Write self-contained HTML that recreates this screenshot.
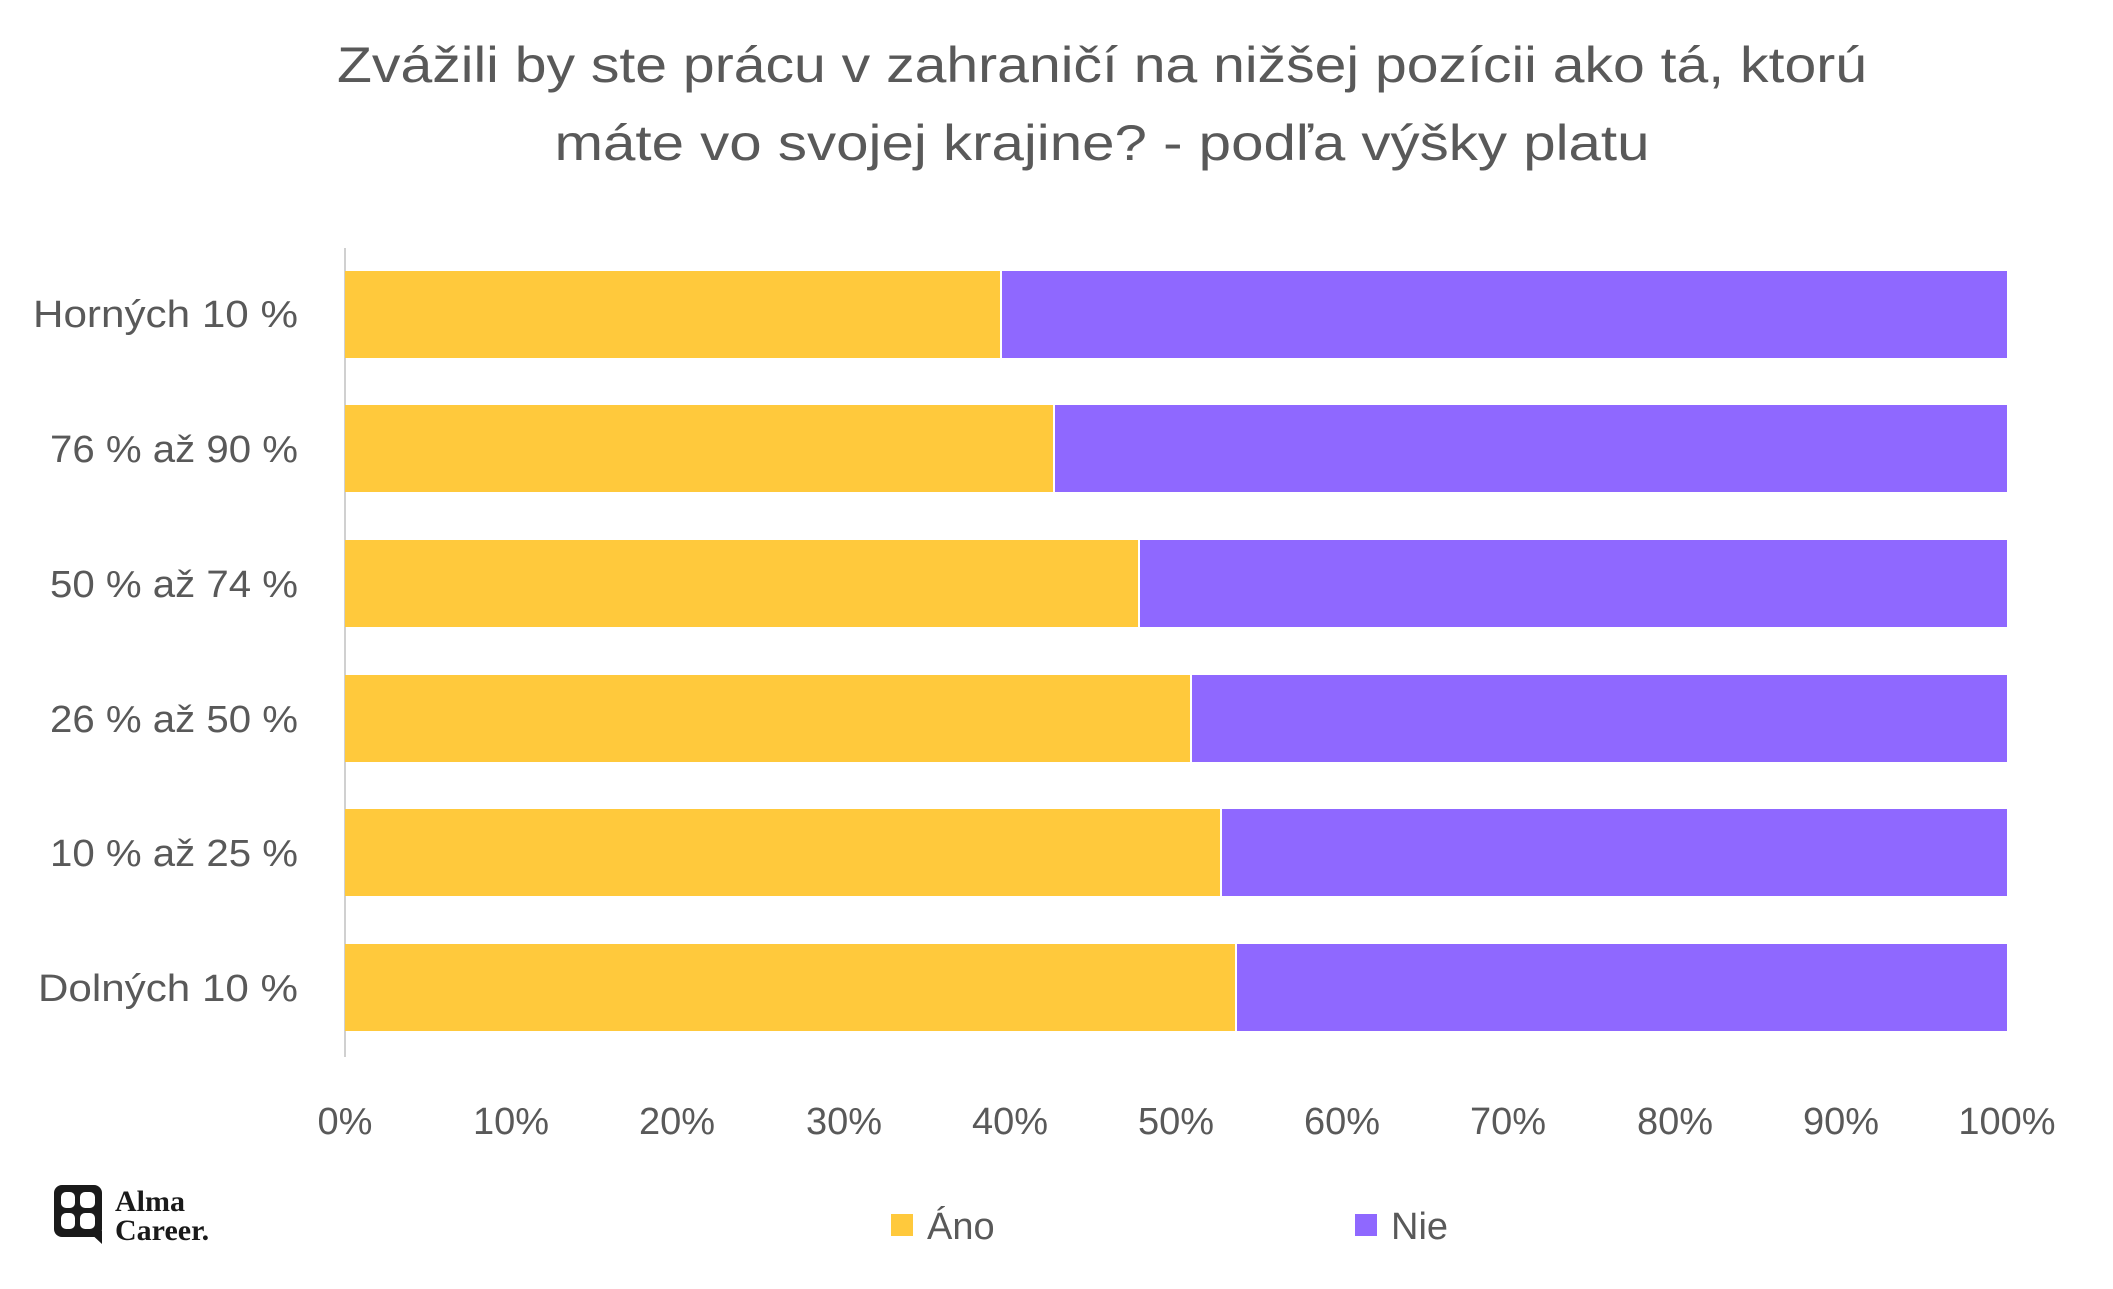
<!DOCTYPE html>
<html><head><meta charset="utf-8"><style>html,body{margin:0;padding:0;background:#fff}svg{display:block}</style></head>
<body>
<svg width="2113" height="1289" viewBox="0 0 2113 1289" xmlns="http://www.w3.org/2000/svg" font-family="'Liberation Sans', sans-serif">
<rect width="2113" height="1289" fill="#fff"/>
<g fill="#595959" font-size="50" text-anchor="middle">
<text x="1102" y="82" textLength="1530" lengthAdjust="spacingAndGlyphs">Zvážili by ste prácu v zahraničí na nižšej pozícii ako tá, ktorú</text>
<text x="1102" y="160" textLength="1095" lengthAdjust="spacingAndGlyphs">máte vo svojej krajine? - podľa výšky platu</text>
</g>
<line x1="345" y1="248" x2="345" y2="1057" stroke="#d0d0d0" stroke-width="2"/>
<g>
<rect x="345" y="271" width="655" height="87" fill="#FFC93C"/><rect x="1002" y="271" width="1005" height="87" fill="#8F68FF"/>
<rect x="345" y="405" width="708" height="87" fill="#FFC93C"/><rect x="1055" y="405" width="952" height="87" fill="#8F68FF"/>
<rect x="345" y="540" width="793" height="87" fill="#FFC93C"/><rect x="1140" y="540" width="867" height="87" fill="#8F68FF"/>
<rect x="345" y="675" width="845" height="87" fill="#FFC93C"/><rect x="1192" y="675" width="815" height="87" fill="#8F68FF"/>
<rect x="345" y="809" width="875" height="87" fill="#FFC93C"/><rect x="1222" y="809" width="785" height="87" fill="#8F68FF"/>
<rect x="345" y="944" width="890" height="87" fill="#FFC93C"/><rect x="1237" y="944" width="770" height="87" fill="#8F68FF"/>
</g>
<g fill="#595959" font-size="38" text-anchor="end">
<text x="298" y="327" textLength="265" lengthAdjust="spacingAndGlyphs">Horných 10 %</text>
<text x="298" y="462" textLength="248" lengthAdjust="spacingAndGlyphs">76 % až 90 %</text>
<text x="298" y="597" textLength="248" lengthAdjust="spacingAndGlyphs">50 % až 74 %</text>
<text x="298" y="732" textLength="248" lengthAdjust="spacingAndGlyphs">26 % až 50 %</text>
<text x="298" y="866" textLength="248" lengthAdjust="spacingAndGlyphs">10 % až 25 %</text>
<text x="298" y="1001" textLength="260" lengthAdjust="spacingAndGlyphs">Dolných 10 %</text>
</g>
<g fill="#595959" font-size="38" text-anchor="middle">
<text x="345" y="1134">0%</text><text x="511" y="1134">10%</text><text x="677" y="1134">20%</text>
<text x="844" y="1134">30%</text><text x="1010" y="1134">40%</text><text x="1176" y="1134">50%</text>
<text x="1342" y="1134">60%</text><text x="1508" y="1134">70%</text><text x="1675" y="1134">80%</text>
<text x="1841" y="1134">90%</text><text x="2007" y="1134">100%</text>
</g>
<rect x="891" y="1214" width="22" height="22" fill="#FFC93C"/>
<text x="927" y="1239" fill="#595959" font-size="38">Áno</text>
<rect x="1355" y="1214" width="22" height="22" fill="#8F68FF"/>
<text x="1391" y="1239" fill="#595959" font-size="38">Nie</text>
<g>
<rect x="54" y="1185" width="48" height="52" rx="8" fill="#1a1a1a"/>
<path d="M88 1231 L102 1231 L102 1244 Z" fill="#1a1a1a"/>
<rect x="61" y="1192" width="14" height="16" rx="5" fill="#fff"/>
<rect x="80" y="1192" width="15" height="16" rx="5" fill="#fff"/>
<rect x="61" y="1213" width="14" height="16" rx="5" fill="#fff"/>
<rect x="80" y="1213" width="15" height="16" rx="5" fill="#fff"/>
<g font-family="'Liberation Serif', serif" font-weight="bold" font-size="30" fill="#1a1a1a">
<text x="115" y="1211">Alma</text>
<text x="115" y="1240">Career.</text>
</g>
</g>
</svg>
</body></html>
